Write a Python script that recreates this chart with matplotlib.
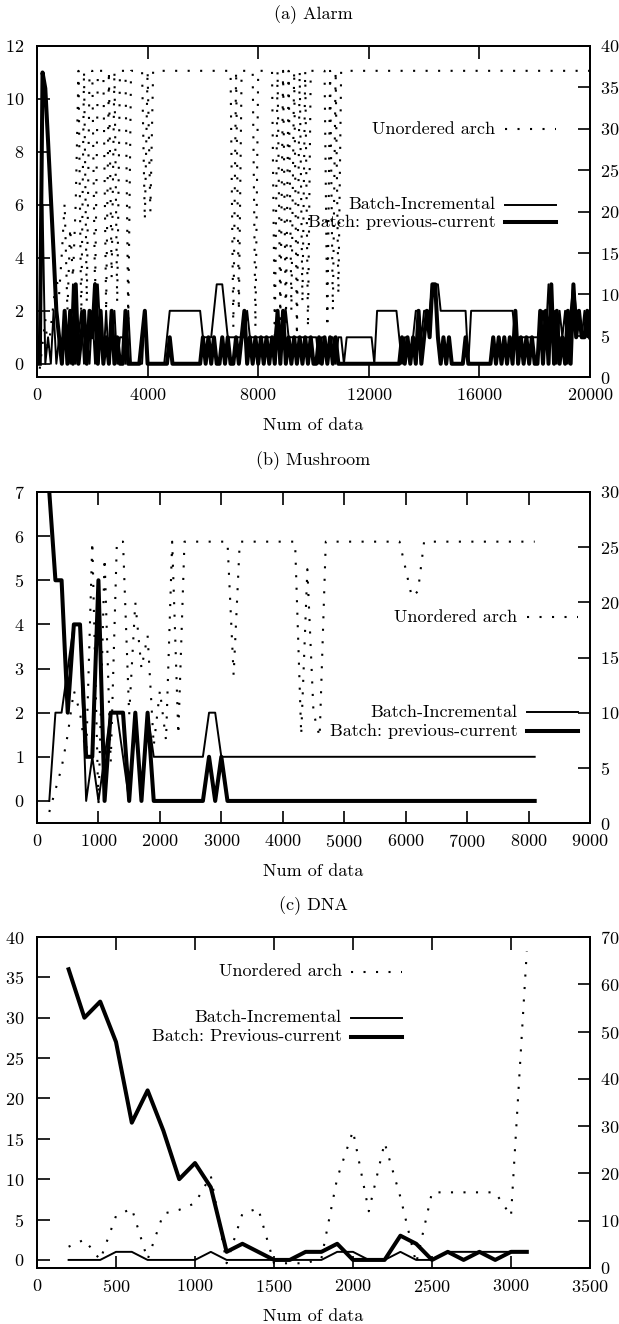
import matplotlib.pyplot as plt
import numpy as np

plt.rcParams['font.family'] = ['cmr10', 'DejaVu Serif']
plt.rcParams['axes.unicode_minus'] = False
plt.rcParams['axes.formatter.use_mathtext'] = True
plt.rcParams['font.size'] = 13

# ---------------- (a) Alarm ----------------
alarm_x = np.arange(100, 20001, 100)
alarm_inc = [
    0, 6, 0, 1, 0, 2, 0, 1, 0, 2,
    1, 0, 3, 0, 1, 2, 0, 1, 0, 2,
    0, 3, 1, 0, 2, 0, 1, 2, 0, 1,
    1, 0, 2, 0, 0, 0, 0, 0, 2, 0,
    0, 0, 0, 0, 0, 0, 1, 2, 2, 2,
    2, 2, 2, 2, 2, 2, 2, 2, 2, 1,
    1, 1, 1, 2, 3, 3, 3, 2, 1, 1,
    1, 1, 1, 1, 1, 2, 1, 1, 1, 1,
    1, 1, 1, 1, 1, 1, 2, 1, 1, 2,
    1, 1, 1, 1, 1, 1, 1, 1, 1, 1,
    1, 0, 1, 1, 0, 1, 1, 0, 1, 1,
    0, 1, 1, 1, 1, 1, 1, 1, 1, 1,
    1, 0, 2, 2, 2, 2, 2, 2, 2, 2,
    1, 0, 1, 1, 0, 1, 2, 2, 1, 2,
    2, 2, 3, 3, 3, 2, 2, 2, 2, 2,
    2, 2, 2, 2, 2, 0, 2, 2, 2, 2,
    2, 2, 2, 2, 2, 2, 2, 2, 2, 2,
    2, 2, 1, 1, 1, 1, 1, 1, 1, 1,
    1, 1, 2, 1, 3, 1, 2, 0, 2, 1,
    2, 0, 2, 3, 2, 2, 1, 2, 1, 2,
]
alarm_prev = [
    0, 11, 10.4, 8.4, 6.3, 4.2, 2, 1, 0, 2,
    0, 2, 0, 3, 0, 1, 2, 0, 2, 1,
    3, 0, 2, 0, 1, 0, 2, 0, 1, 0,
    0, 2, 0, 0, 0, 0, 0, 1, 2, 0,
    0, 0, 0, 0, 0, 0, 0, 1, 0, 0,
    0, 0, 0, 0, 0, 0, 0, 0, 0, 1,
    0, 1, 0, 1, 0, 0, 1, 0, 1, 0,
    0, 1, 0, 1, 2, 0, 1, 0, 1, 0,
    1, 0, 1, 0, 1, 0, 2, 0, 2, 0,
    1, 0, 1, 0, 1, 0, 1, 0, 1, 0,
    0, 1, 0, 1, 0, 1, 0, 1, 0, 0,
    0, 0, 0, 0, 0, 0, 0, 0, 0, 0,
    0, 0, 0, 0, 0, 0, 0, 0, 0, 0,
    0, 1, 0, 1, 0, 1, 0, 2, 0, 1,
    2, 1, 3, 3, 1, 0, 1, 0, 1, 0,
    0, 0, 0, 0, 1, 0, 0, 0, 0, 0,
    0, 0, 0, 0, 1, 0, 1, 0, 1, 0,
    1, 0, 2, 0, 1, 0, 1, 0, 1, 0,
    0, 2, 0, 2, 0, 3, 0, 2, 0, 1,
    0, 2, 0, 3, 1, 2, 1, 1, 2, 1,
]
alarm_arch = [
    1, 4, 7, 3, 6, 9, 12, 10, 15, 21,
    8, 18, 12, 21, 37, 7, 37, 9, 37, 37,
    10, 37, 37, 37, 8, 37, 12, 37, 9, 37,
    37, 37, 7, 37, 37, 37, 37, 37, 19, 37,
    20, 37, 37, 37, 37, 37, 37, 37, 37, 37,
    37, 37, 37, 37, 37, 37, 37, 37, 37, 37,
    37, 37, 37, 37, 37, 37, 37, 37, 37, 37,
    6, 37, 8, 37, 37, 37, 37, 37, 6, 37,
    37, 37, 37, 37, 37, 5, 37, 7, 37, 6,
    37, 8, 37, 5, 37, 9, 37, 6, 37, 37,
    37, 37, 37, 37, 6, 37, 8, 37, 10, 37,
] + [37] * 90

# ---------------- (b) Mushroom ----------------
mush_x = np.arange(200, 8101, 100)
mush_inc = ([0, 2, 2, 3, 4, 4, 0, 1, 0, 1,
             2, 2, 1, 0, 2, 0, 2, 1, 1, 1]
            + [1] * 6 + [2, 2] + [1] * 52)
mush_prev = ([7, 5, 5, 2, 4, 4, 1, 1, 5, 0,
              2, 2, 2, 0, 2, 0, 2, 0, 0, 0]
             + [0] * 6 + [1, 0, 1] + [0] * 51)
mush_arch = ([1, 3, 5, 8, 12, 10, 6, 25.5, 1.5, 24,
              5.5, 25.5, 25.5, 9.8, 20, 14, 17, 7, 12, 7.5,
              25.5, 8, 25.5] + [25.5] * 7 + [13.4] + [25.5] * 10
             + [8, 23, 10, 7.8] + [25.5] * 13 + [23, 20.5, 21] + [25.5] * 19)

# ---------------- (c) DNA ----------------
dna_x = np.arange(200, 3101, 100)
dna_inc = [0, 0, 0, 1, 1, 0, 0, 0, 0, 1,
           0, 0, 0, 0, 0, 0, 0, 1, 1, 0,
           0, 1, 0, 0, 1, 1, 1, 1, 1, 1]
dna_prev = [36, 30, 32, 27, 17, 21, 16, 10, 12, 9,
            1, 2, 1, 0, 0, 1, 1, 2, 0, 0,
            0, 3, 2, 0, 1, 0, 1, 0, 1, 1]
dna_arch = [4.5, 6, 1.7, 11, 12.6, 1.8, 11.5, 12.3, 13.7, 19.5,
            1, 11.5, 12.6, 1, 1, 1, 2, 19, 29, 12,
            26.5, 15, 1, 16, 16, 16, 16, 16, 11, 67]

THIN, THICK, DOT = 1.4, 2.9, (0, (1, 5))
W, H = 619, 1324


def key(ax, label, y, xend, lw, ls='-'):
    x0 = xend - 0.092
    ax.plot([x0, xend], [y, y], transform=ax.transAxes, color='black',
            lw=lw, ls=ls, clip_on=False)
    ax.text(x0 - 0.017, y, label, transform=ax.transAxes,
            ha='right', va='center')


def panel(top, title, x, inc, prev, arch, xlim, xticks, ylim, yticks,
          y2lim, y2ticks, labels, key_pos):
    bottom = top + 331
    ax = fig.add_axes([37 / W, 1 - bottom / H, 553 / W, 331 / H])
    ax2 = ax.twinx()
    ax.plot(x, inc, color='black', lw=THIN)
    ax.plot(x, prev, color='black', lw=THICK)
    ax2.plot(x, arch, color='black', lw=1.5, ls=DOT)
    ax.set_xlim(*xlim)
    ax.set_ylim(*ylim)
    ax2.set_ylim(*y2lim)
    ax.set_xticks(xticks)
    ax.set_yticks(yticks)
    ax2.set_yticks(y2ticks)
    ax.tick_params(axis='x', direction='in', top=True, bottom=True,
                   length=9, width=1.2, pad=7)
    ax.tick_params(axis='y', direction='in', length=9, width=1.2, pad=9)
    ax2.tick_params(axis='y', direction='in', length=9, width=1.2, pad=7)
    for a in (ax, ax2):
        for s in a.spines.values():
            s.set_linewidth(1.3)
    (xa, ya, yb, yc) = key_pos
    key(ax2, labels[0], ya, xa, 1.5, DOT)
    key(ax, labels[1], yb, xa, THIN)
    key(ax, labels[2], yc, xa, THICK)
    cx = (37 + 553 / 2) / W
    fig.text(cx, 1 - (top - 31) / H, title, ha='center', va='center')
    fig.text(cx, 1 - (bottom + 48) / H, 'Num of data', ha='center', va='center')
    return ax


fig = plt.figure(figsize=(W / 100, H / 100), dpi=100)

panel(46, '(a) Alarm', alarm_x, alarm_inc, alarm_prev, alarm_arch,
      (0, 20000), range(0, 20001, 4000), (-0.5, 12), range(0, 13, 2),
      (0, 40), range(0, 41, 5),
      ['Unordered arch', 'Batch-Incremental', 'Batch: previous-current'],
      (0.938, 0.748, 0.521, 0.467))

panel(492, '(b) Mushroom', mush_x, mush_inc, mush_prev, mush_arch,
      (0, 9000), range(0, 9001, 1000), (-0.5, 7), range(0, 8),
      (0, 30), range(0, 31, 5),
      ['Unordered arch', 'Batch-Incremental', 'Batch: previous-current'],
      (0.978, 0.622, 0.335, 0.278))

panel(937, '(c) DNA', dna_x, dna_inc, dna_prev, dna_arch,
      (0, 3500), range(0, 3501, 500), (-1, 40), range(0, 41, 5),
      (0, 70), range(0, 71, 10),
      ['Unordered arch', 'Batch-Incremental', 'Batch: Previous-current'],
      (0.660, 0.895, 0.756, 0.699))

plt.savefig('out.png', dpi=100)
